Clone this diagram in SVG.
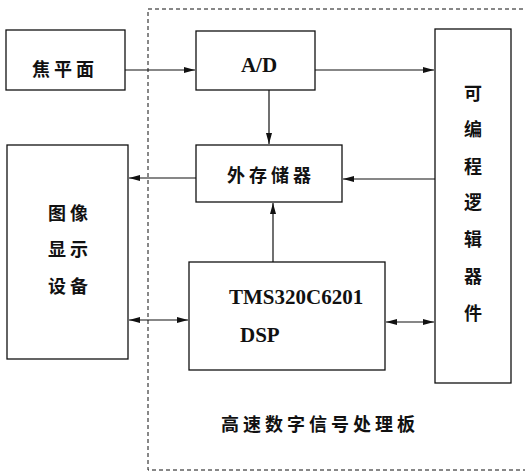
<svg xmlns="http://www.w3.org/2000/svg" width="525" height="474" viewBox="0 0 525 474">
<defs>
<style>
.box{fill:#fff;stroke:#111;stroke-width:1.3}
.ln{stroke:#111;stroke-width:1.2;fill:none}
.cj{font-family:"Noto Sans CJK SC",sans-serif;font-size:18px;font-weight:bold;fill:#111;text-anchor:middle;dominant-baseline:central}
.sp{letter-spacing:4px}
.la{font-family:"Liberation Serif",serif;font-size:21px;font-weight:bold;fill:#111;dominant-baseline:central}
</style>
<marker id="ah" markerWidth="12" markerHeight="8" refX="11" refY="4" orient="auto-start-reverse" markerUnits="userSpaceOnUse">
<path d="M0,1 L11,4 L0,7 Z" fill="#111"/>
</marker>
</defs>
<rect width="525" height="474" fill="#fff"/>
<g id="board">
<path d="M530,9 L148,9 L148,470 L530,470" fill="none" stroke="#111" stroke-width="1" stroke-dasharray="4,3"/>
<text class="cj sp" x="320" y="423">高速数字信号处理板</text>
</g>
<g id="connectors">
<line class="ln" x1="125" y1="70" x2="195" y2="70" marker-end="url(#ah)"/>
<line class="ln" x1="315" y1="70" x2="434" y2="70" marker-end="url(#ah)"/>
<line class="ln" x1="269" y1="90" x2="269" y2="144" marker-end="url(#ah)"/>
<line class="ln" x1="196" y1="178" x2="129" y2="178" marker-end="url(#ah)"/>
<line class="ln" x1="435" y1="179" x2="343" y2="179" marker-end="url(#ah)"/>
<line class="ln" x1="273" y1="262" x2="273" y2="203" marker-end="url(#ah)"/>
<line class="ln" x1="129" y1="320" x2="188" y2="320" marker-start="url(#ah)" marker-end="url(#ah)"/>
<line class="ln" x1="386" y1="322" x2="434" y2="322" marker-start="url(#ah)" marker-end="url(#ah)"/>
</g>
<g id="focal">
<rect class="box" x="6" y="30" width="119" height="60"/>
<text class="cj sp" x="65" y="68">焦平面</text>
</g>
<g id="ad">
<rect class="box" x="196" y="31" width="119" height="59"/>
<text class="la" x="259" y="65" text-anchor="middle">A/D</text>
</g>
<g id="pld">
<rect class="box" x="435" y="29" width="76" height="354"/>
<text class="cj" x="473" y="92">可</text>
<text class="cj" x="473" y="128">编</text>
<text class="cj" x="473" y="165">程</text>
<text class="cj" x="473" y="201">逻</text>
<text class="cj" x="473" y="238">辑</text>
<text class="cj" x="473" y="275">器</text>
<text class="cj" x="473" y="312">件</text>
</g>
<g id="mem">
<rect class="box" x="196" y="145" width="146" height="57"/>
<text class="cj sp" x="271" y="174">外存储器</text>
</g>
<g id="display">
<rect class="box" x="7" y="145" width="121" height="214"/>
<text class="cj sp" x="70" y="212">图像</text>
<text class="cj sp" x="70" y="248">显示</text>
<text class="cj sp" x="70" y="285">设备</text>
</g>
<g id="dsp">
<rect class="box" x="189" y="262" width="196" height="108"/>
<text class="la" x="229" y="297">TMS320C6201</text>
<text class="la" x="240" y="335">DSP</text>
</g>
</svg>
